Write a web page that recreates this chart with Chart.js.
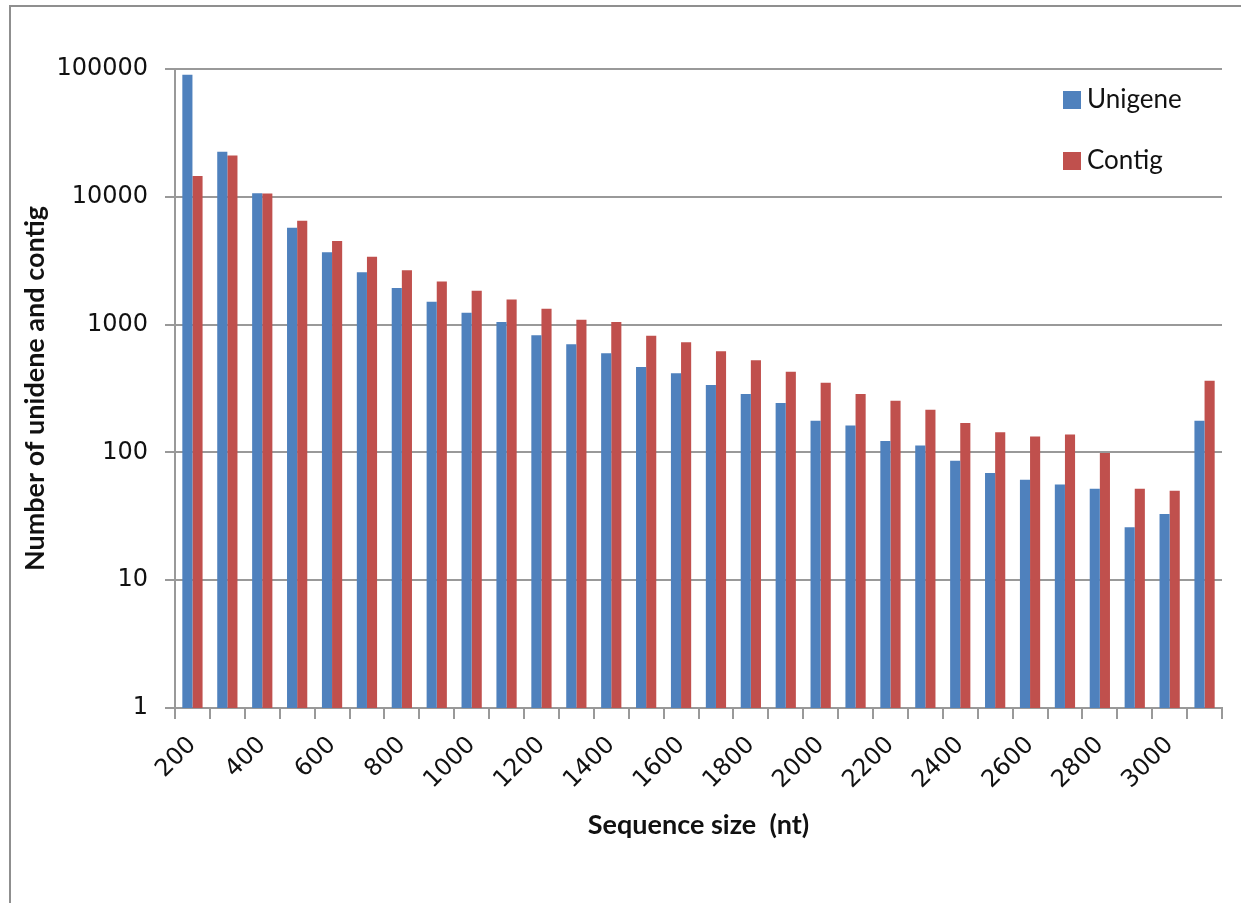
<!DOCTYPE html>
<html>
<head>
<meta charset="utf-8">
<title>Sequence size distribution</title>
<script src="https://cdn.jsdelivr.net/npm/chart.js@4.4.1/dist/chart.umd.min.js"></script>
<style>
  html, body { margin: 0; padding: 0; background: #ffffff; }
  canvas { display: block; }
</style>
</head>
<body>
<canvas id="chart" width="1241" height="903"></canvas>
<script>
// Length bins (nt)
const sizeBins = ['200', '300', '400', '500', '600', '700', '800', '900', '1000', '1100',
  '1200', '1300', '1400', '1500', '1600', '1700', '1800', '1900', '2000', '2100',
  '2200', '2300', '2400', '2500', '2600', '2700', '2800', '2900', '3000', '>3000'];

// Counts per bin
const unigeneCounts = [90000, 22500, 10650, 5730, 3680, 2565, 1930, 1510, 1240, 1050,
  824, 701, 596, 466, 416, 337, 286, 244, 177, 162,
  123, 113, 86, 69, 61, 56, 52, 26, 33, 177];
const contigCounts = [14550, 21000, 10600, 6500, 4510, 3400, 2660, 2170, 1840, 1570,
  1330, 1090, 1050, 819, 727, 618, 526, 428, 351, 286,
  254, 216, 170, 144, 133, 138, 99, 52, 50, 364];

// Logarithmic axis ticks
const yTickValues = [1, 10, 100, 1000, 10000, 100000];

const seriesNames = ['Unigene', 'Contig'];
const seriesColors = ['#4F81BD', '#C0504D'];

const gridColor = '#999999';
const tickFont = { family: 'DejaVu Sans', size: 24 };
const titleFont = { family: 'Lato', size: 27, weight: 'bold' };

// Outer frame of the chart object
const framePlugin = {
  id: 'frame',
  beforeDraw(chart) {
    const ctx = chart.ctx;
    ctx.save();
    ctx.fillStyle = '#ffffff';
    ctx.fillRect(0, 0, chart.width, chart.height);
    ctx.strokeStyle = '#8f8f8f';
    ctx.lineWidth = 2;
    ctx.beginPath();
    ctx.moveTo(10, chart.height);
    ctx.lineTo(10, 6);
    ctx.lineTo(chart.width, 6);
    ctx.stroke();
    ctx.restore();
  }
};

// Legend stacked vertically in the upper right of the plot area
const legendPlugin = {
  id: 'stackedLegend',
  afterDraw(chart) {
    const ctx = chart.ctx;
    const area = chart.chartArea;
    const x = area.right - 159;
    const y0 = area.top + 31;
    const step = 61;
    ctx.save();
    ctx.font = '26px Lato';
    ctx.textBaseline = 'middle';
    ctx.textAlign = 'left';
    chart.data.datasets.forEach((ds, i) => {
      const cy = y0 + i * step;
      ctx.fillStyle = ds.backgroundColor;
      ctx.fillRect(x, cy - 9, 18, 18);
      ctx.fillStyle = '#111111';
      ctx.fillText(ds.label, x + 24, cy);
    });
    ctx.restore();
  }
};

new Chart(document.getElementById('chart'), {
  type: 'bar',
  data: {
    labels: sizeBins,
    datasets: [
      { label: seriesNames[0], data: unigeneCounts, backgroundColor: seriesColors[0] },
      { label: seriesNames[1], data: contigCounts, backgroundColor: seriesColors[1] }
    ]
  },
  options: {
    responsive: false,
    devicePixelRatio: 1,
    animation: false,
    layout: { padding: { left: 12, top: 69, right: 19, bottom: 10 } },
    datasets: {
      bar: { categoryPercentage: 0.58, barPercentage: 1.0, borderWidth: 0 }
    },
    plugins: {
      legend: { display: false },
      tooltip: { enabled: false }
    },
    scales: {
      x: {
        type: 'category',
        offset: true,
        afterFit(scale) { scale.height = 903 - 10 - 708; },
        grid: {
          offset: true,
          drawOnChartArea: false,
          drawTicks: true,
          tickLength: 11,
          color: gridColor,
          lineWidth: 2
        },
        border: { color: gridColor, width: 2 },
        ticks: {
          autoSkip: false,
          minRotation: 45,
          maxRotation: 45,
          padding: 12,
          color: '#111111',
          font: tickFont,
          callback(value, index) {
            return index % 2 === 0 ? this.getLabelForValue(value) : '';
          }
        },
        title: {
          display: true,
          text: 'Sequence size  (nt)',
          color: '#111111',
          font: titleFont,
          padding: { top: 0, bottom: 52 }
        }
      },
      y: {
        type: 'logarithmic',
        min: yTickValues[0],
        max: yTickValues[yTickValues.length - 1],
        afterFit(scale) { scale.width = 175 - 12; },
        afterBuildTicks(scale) {
          scale.ticks = yTickValues.map(v => ({ value: v }));
        },
        grid: {
          color: gridColor,
          lineWidth: 2,
          drawTicks: true,
          tickLength: 10
        },
        border: { color: gridColor, width: 2 },
        ticks: {
          padding: 17,
          color: '#111111',
          font: tickFont,
          callback(value) { return String(value); }
        },
        title: {
          display: true,
          text: 'Number of unidene and contig',
          color: '#111111',
          font: titleFont,
          padding: { top: 7, bottom: 0 }
        }
      }
    }
  },
  plugins: [framePlugin, legendPlugin]
});
</script>
</body>
</html>
